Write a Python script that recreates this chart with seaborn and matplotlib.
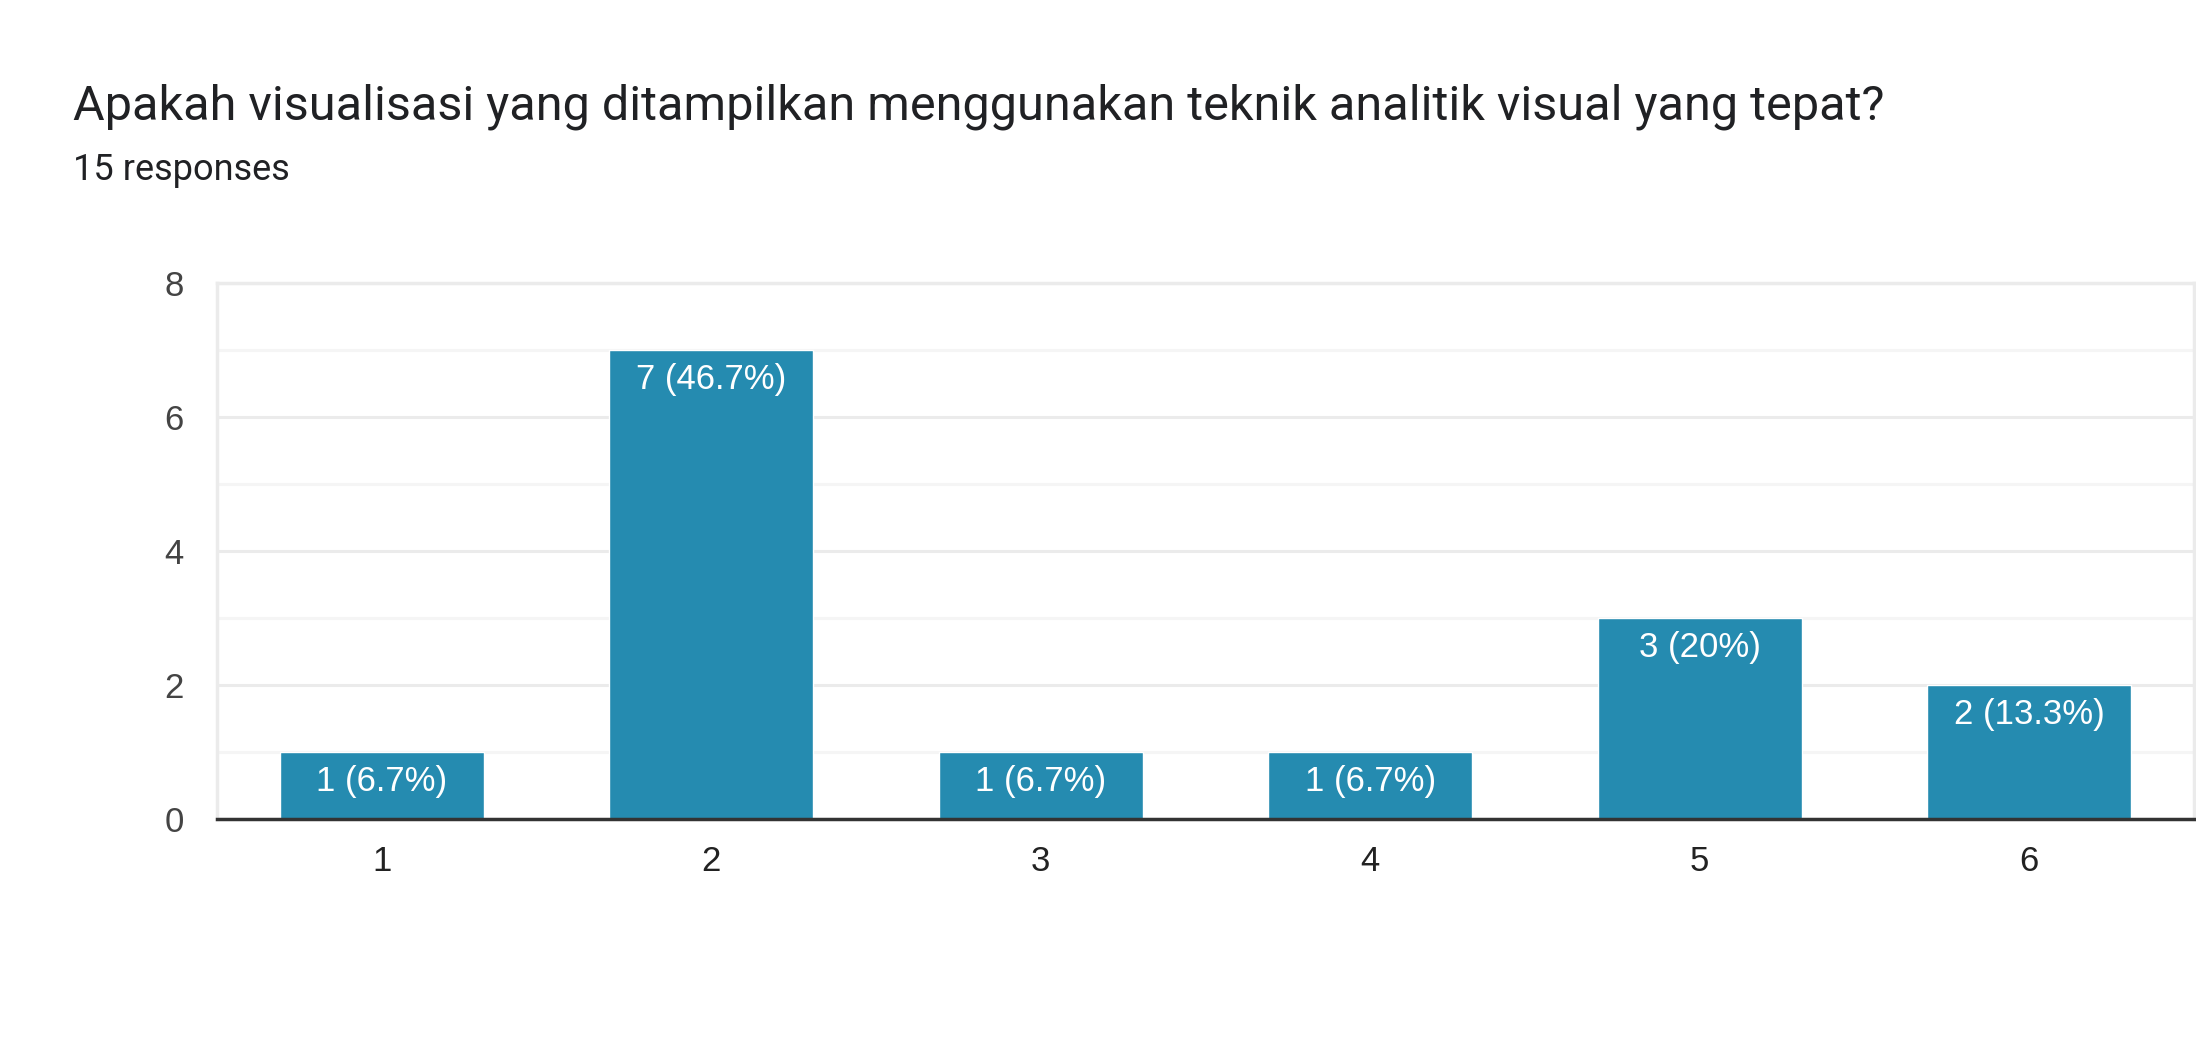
import matplotlib
matplotlib.use("Agg")
import matplotlib.pyplot as plt
import seaborn as sns
import pandas as pd
from matplotlib.ticker import MultipleLocator

title = "Apakah visualisasi yang ditampilkan menggunakan teknik analitik visual yang tepat?"
subtitle = "15 responses"
categories = ["1", "2", "3", "4", "5", "6"]
counts = [1, 7, 1, 1, 3, 2]
labels = ["1 (6.7%)", "7 (46.7%)", "1 (6.7%)", "1 (6.7%)", "3 (20%)", "2 (13.3%)"]

sns.set_theme(style="white")
plt.rcParams['font.family'] = ['Roboto', 'DejaVu Sans']

df = pd.DataFrame({"cat": categories, "n": counts})

fig = plt.figure(figsize=(21.96, 10.44), dpi=100)
ax = fig.add_axes([217/2196, 1 - 819/1044, 1977/2196, 536/1044])

sns.barplot(data=df, x="cat", y="n", color="#258bb0", saturation=1, width=0.62, ax=ax, zorder=3)

ax.set_ylim(0, 8)
ax.set_xlim(-0.5, len(categories) - 0.5)
ax.yaxis.set_major_locator(MultipleLocator(2))
ax.yaxis.set_minor_locator(MultipleLocator(1))
ax.grid(axis="y", which="major", color="#ebebeb", linewidth=2.2, zorder=0)
ax.grid(axis="y", which="minor", color="#f5f5f5", linewidth=2.2, zorder=0)
ax.set_axisbelow(True)

for side in ["left", "top", "right"]:
    ax.spines[side].set_color("#ebebeb")
    ax.spines[side].set_linewidth(2.5)
ax.spines["bottom"].set_color("#333333")
ax.spines["bottom"].set_linewidth(2.5)
ax.spines["bottom"].set_zorder(5)

tick_font = ['Liberation Sans', 'DejaVu Sans']
ax.set_xlabel("")
ax.set_ylabel("")
ax.tick_params(axis="y", which="both", length=0, pad=24, labelsize=25, labelcolor="#444444")
ax.tick_params(axis="x", length=0, pad=19, labelsize=25, labelcolor="#222222")
for lab in ax.get_xticklabels() + ax.get_yticklabels():
    lab.set_family(tick_font)

for cont in ax.containers:
    ax.bar_label(cont, labels=labels, label_type="edge", padding=-33,
                 color="white", fontsize=25, family=tick_font, zorder=6)

fig.text(73/2196, 1 - 107/1044, title, fontsize=35, color="#202124", va="center", ha="left")
fig.text(73/2196, 1 - 170/1044, subtitle, fontsize=26, color="#202124", va="center", ha="left")

fig.savefig("out.png", dpi=100, facecolor="white")
